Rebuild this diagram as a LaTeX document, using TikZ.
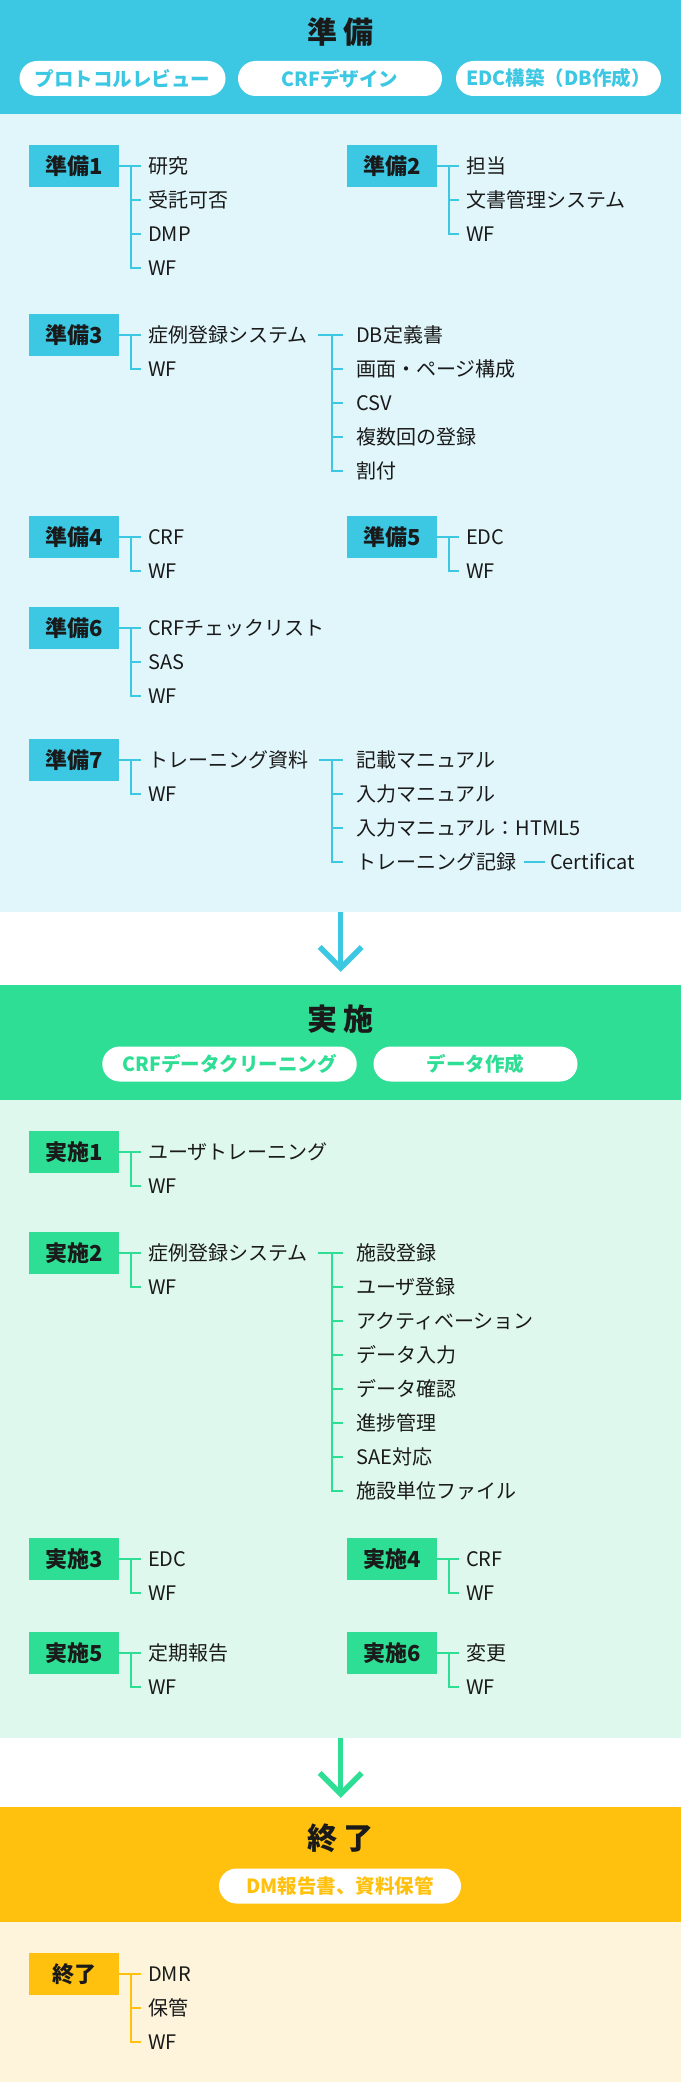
\documentclass[tikz,border=0pt]{standalone}
\usepackage{fontspec}
\setmainfont{Noto Sans CJK JP}
\usetikzlibrary{calc}
\definecolor{cA}{HTML}{3CC7E3}
\definecolor{cAl}{HTML}{E1F6FB}
\definecolor{cB}{HTML}{2EDE94}
\definecolor{cBl}{HTML}{DFF8EE}
\definecolor{cC}{HTML}{FFC10E}
\definecolor{cCl}{HTML}{FEF4DC}
\definecolor{ink}{HTML}{1A1A1A}
% #1 colour, #2 parent node, #3 child prefix, #4 number of children,
% #5 start gap after parent, #6 vertical line offset left of children, #7 tick gap before children
\newcommand\mktree[7]{%
  \coordinate (#3-v) at ([xshift=-#6]#3-1.west);
  \draw[conn=#1] ([xshift=#5]#2.east) -- ([xshift=-#7]#3-1.west);
  \draw[conn=#1] (#3-v) |- ([xshift=-#7]#3-#4.west);
  \foreach \k in {2,...,#4}{\draw[conn=#1] (#3-v |- #3-\k.west) -- ([xshift=-#7]#3-\k.west);}
}
% #1 prefix, #2 x, #3 first y, #4 list
\newcommand\mkitems[4]{%
  \foreach \t [count=\i] in {#4}{\node[item] (#1-\i) at (#2,#3+34*\i-34) {\t};}
}
\begin{document}
\begin{tikzpicture}[x=1pt,y=-1pt,
  band/.style={fill=#1, inner sep=0pt, minimum width=681pt, anchor=north west, draw=none},
  lbl/.style={fill=#1, minimum width=90pt, minimum height=42pt, inner sep=0pt, text=ink,
    font=\fontsize{22}{22}\selectfont\bfseries},
  item/.style={anchor=west, inner sep=0pt, text height=15.2pt, text depth=0pt, text=ink,
    font=\fontsize{20}{20}\selectfont},
  pill/.style={fill=white, rounded corners=17.5pt, minimum height=35pt, inner sep=0pt, text=#1,
    font=\fontsize{19.5}{19.5}\selectfont\bfseries},
  title/.style={inner sep=0pt, text=ink, font=\fontsize{30}{30}\selectfont\bfseries},
  conn/.style={draw=#1, line width=2.2pt},
  arr/.style={draw=#1, line width=5.5pt, line join=miter}]
\useasboundingbox (0,0) rectangle (681,2082);
\fill[white] (0,0) rectangle (681,2082);
% ---------- section bands
\node[band=cA,  minimum height=114pt] (hA) at (0,0) {};
\node[band=cAl, minimum height=798pt] (bA) at (0,114) {};
\node[band=cB,  minimum height=115pt] (hB) at (0,985) {};
\node[band=cBl, minimum height=638pt] (bB) at (0,1100) {};
\node[band=cC,  minimum height=115pt] (hC) at (0,1807) {};
\node[band=cCl, minimum height=160pt] (bC) at (0,1922) {};
% ---------- headers
\node[title] (tA) at (340.5,31.7) {準\hspace{5.6pt}備};
\node[pill=cA, minimum width=206pt] (pA1) at (122.5,78.5) {プロトコルレビュー};
\node[pill=cA, minimum width=204pt] (pA2) at (340,78.5) {CRFデザイン};
\node[pill=cA, minimum width=205pt] (pA3) at (558.5,78.5) {EDC構築（DB作成）};
\node[title] (tB) at (340.5,1019) {実\hspace{5.6pt}施};
\node[pill=cB, minimum width=254.5pt] (pB1) at (229.5,1064) {CRFデータクリーニング};
\node[pill=cB, minimum width=204pt] (pB2) at (475.5,1064) {データ作成};
\node[title] (tC) at (340.5,1838) {終\hspace{5.6pt}了};
\node[pill=cC, minimum width=242pt] (pC1) at (340,1886) {DM報告書、資料保管};
% ---------- arrows between sections
\coordinate (a1) at ([yshift=17pt]hB.north);
\draw[arr=cA] (bA.south) -- (a1);
\draw[arr=cA] ([shift={(-21pt,21pt)}]a1) -- (a1) -- ([shift={(21pt,21pt)}]a1);
\coordinate (a2) at ([yshift=13pt]hC.north);
\draw[arr=cB] (bB.south) -- (a2);
\draw[arr=cB] ([shift={(-21pt,21pt)}]a2) -- (a2) -- ([shift={(21pt,21pt)}]a2);
% ---------- 準備
\node[lbl=cA] (p1) at (74,166) {準備1};
\mkitems{p1i}{148}{166}{研究,受託可否,DMP,WF}
\mktree{cA}{p1}{p1i}{4}{0pt}{17pt}{6.7pt}
\node[lbl=cA] (p2) at (392,166) {準備2};
\mkitems{p2i}{466}{166}{担当,文書管理システム,WF}
\mktree{cA}{p2}{p2i}{3}{0pt}{17pt}{6.7pt}
\node[lbl=cA] (p3) at (74,335) {準備3};
\mkitems{p3i}{148}{335}{症例登録システム,WF}
\mktree{cA}{p3}{p3i}{2}{0pt}{17pt}{6.7pt}
\mkitems{p3q}{356}{335}{DB定義書,画面・ページ構成,CSV,複数回の登録,割付}
\mktree{cA}{p3i-1}{p3q}{5}{10.5pt}{24pt}{13pt}
\node[lbl=cA] (p4) at (74,537) {準備4};
\mkitems{p4i}{148}{537}{CRF,WF}
\mktree{cA}{p4}{p4i}{2}{0pt}{17pt}{6.7pt}
\node[lbl=cA] (p5) at (392,537) {準備5};
\mkitems{p5i}{466}{537}{EDC,WF}
\mktree{cA}{p5}{p5i}{2}{0pt}{17pt}{6.7pt}
\node[lbl=cA] (p6) at (74,628) {準備6};
\mkitems{p6i}{148}{628}{CRFチェックリスト,SAS,WF}
\mktree{cA}{p6}{p6i}{3}{0pt}{17pt}{6.7pt}
\node[lbl=cA] (p7) at (74,760) {準備7};
\mkitems{p7i}{148}{760}{トレーニング資料,WF}
\mktree{cA}{p7}{p7i}{2}{0pt}{17pt}{6.7pt}
\mkitems{p7q}{356}{760}{記載マニュアル,入力マニュアル,入力マニュアル：HTML5,トレーニング記録}
\mktree{cA}{p7i-1}{p7q}{4}{10.5pt}{24pt}{13pt}
\node[item] (p7c) at ([xshift=33.5pt]p7q-4.east) {Certificat};
\draw[conn=cA] ([xshift=7.5pt]p7q-4.east) -- ([xshift=-5pt]p7c.west);
% ---------- 実施
\node[lbl=cB] (e1) at (74,1152) {実施1};
\mkitems{e1i}{148}{1152}{ユーザトレーニング,WF}
\mktree{cB}{e1}{e1i}{2}{0pt}{17pt}{6.7pt}
\node[lbl=cB] (e2) at (74,1253) {実施2};
\mkitems{e2i}{148}{1253}{症例登録システム,WF}
\mktree{cB}{e2}{e2i}{2}{0pt}{17pt}{6.7pt}
\mkitems{e2q}{356}{1253}{施設登録,ユーザ登録,アクティベーション,データ入力,データ確認,進捗管理,SAE対応,施設単位ファイル}
\mktree{cB}{e2i-1}{e2q}{8}{10.5pt}{24pt}{13pt}
\node[lbl=cB] (e3) at (74,1559) {実施3};
\mkitems{e3i}{148}{1559}{EDC,WF}
\mktree{cB}{e3}{e3i}{2}{0pt}{17pt}{6.7pt}
\node[lbl=cB] (e4) at (392,1559) {実施4};
\mkitems{e4i}{466}{1559}{CRF,WF}
\mktree{cB}{e4}{e4i}{2}{0pt}{17pt}{6.7pt}
\node[lbl=cB] (e5) at (74,1653) {実施5};
\mkitems{e5i}{148}{1653}{定期報告,WF}
\mktree{cB}{e5}{e5i}{2}{0pt}{17pt}{6.7pt}
\node[lbl=cB] (e6) at (392,1653) {実施6};
\mkitems{e6i}{466}{1653}{変更,WF}
\mktree{cB}{e6}{e6i}{2}{0pt}{17pt}{6.7pt}
% ---------- 終了
\node[lbl=cC] (f1) at (74,1974) {終了};
\mkitems{f1i}{148}{1974}{DMR,保管,WF}
\mktree{cC}{f1}{f1i}{3}{0pt}{17pt}{6.7pt}
\end{tikzpicture}
\end{document}
